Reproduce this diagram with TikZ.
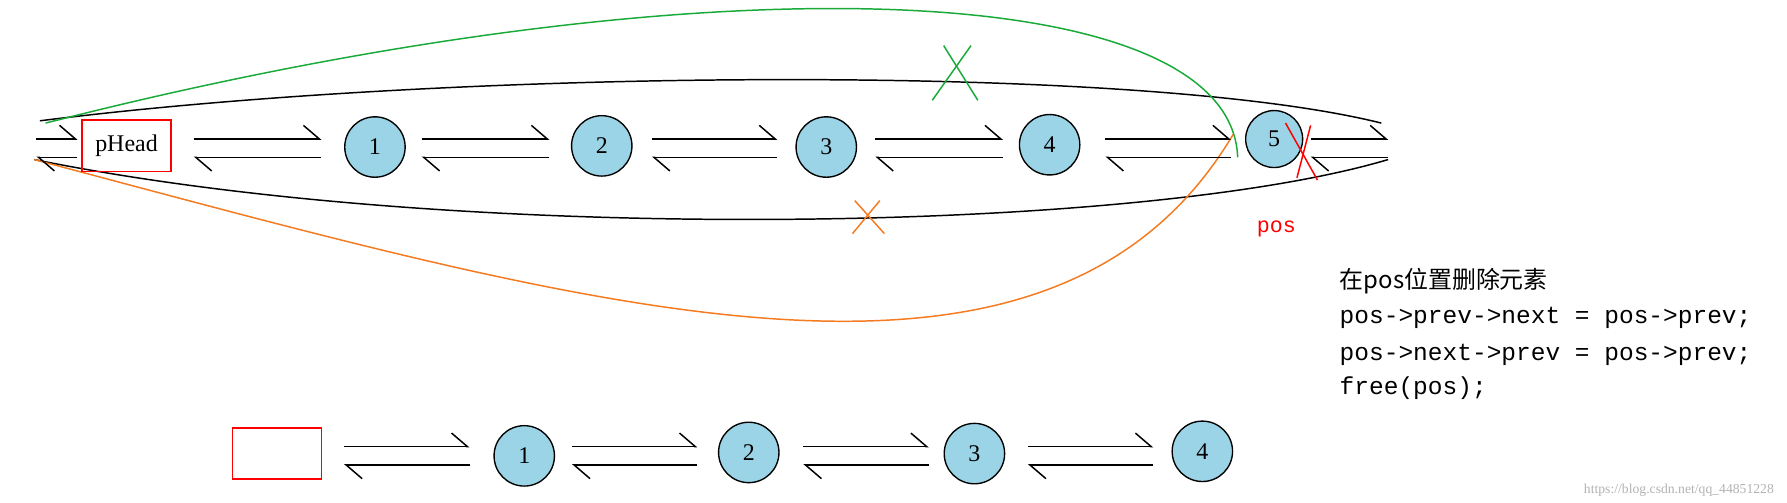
\documentclass[tikz,border=0pt]{standalone}
\usepackage{fontspec}
\setmainfont{Liberation Serif}
\newfontfamily\cjk{Noto Sans CJK SC}
\newfontfamily\mono{Liberation Mono}
\usetikzlibrary{arrows.meta}
\definecolor{cb}{HTML}{9BD4E6}
\definecolor{gr}{HTML}{1AAA3A}
\definecolor{orn}{HTML}{F47B20}
\begin{document}
\begin{tikzpicture}[x=1pt,y=-1pt,
 circ/.style={circle,draw,line width=1.2pt,fill=cb,minimum size=53pt,inner sep=0,font=\fontsize{21}{24}\selectfont},
 box/.style={draw=red,line width=1.5pt,minimum width=78pt,minimum height=45pt,inner sep=0,font=\fontsize{21}{24}\selectfont},
 har/.style={line width=1.3pt,-{Straight Barb[left,length=14pt,width=24pt]}},
 xm/.style={line width=1.3pt}]
\useasboundingbox (0,0) rectangle (1568,441);
% curves
\draw[line width=1.3pt] (35,106) .. controls (400,60) and (1000,55) .. (1212,108);
\draw[line width=1.3pt] (30,140) .. controls (400,215) and (1000,205) .. (1218,140);
\draw[gr,line width=1.3pt] (40,108) .. controls (620,-40) and (1080,-20) .. (1086,138);
\draw[orn,line width=1.3pt] (30,140) .. controls (520,270) and (920,390) .. (1082,118);
% nodes
\node[box] (pH) at (111,128) {pHead};
\node[circ] (c1) at (329,129) {1};
\node[circ] (c2) at (528,128) {2};
\node[circ] (c3) at (725,129) {3};
\node[circ] (c4) at (921,127) {4};
\node[circ,minimum size=50pt] (c5) at (1118,122) {5};
% harpoons
\foreach \a/\b in {170/282,370/482,572/682,768/880,970/1080,32/68,1150/1218}{
 \coordinate (s) at (\a,122); \coordinate (e) at (\b,122);
 \coordinate (s2) at (\b,138); \coordinate (e2) at (\a,138);
 \draw[har] (s) -- (e);
 \draw[har] (s2) -- (e2);}
% crosses
\draw[gr,xm] (828,40) -- (858,88); \draw[gr,xm] (852,40) -- (818,88);
\draw[orn,xm] (750,176) -- (776,205); \draw[orn,xm] (772,176) -- (748,205);
\draw[red,xm] (1128,108) -- (1156,158); \draw[red,xm] (1150,110) -- (1138,156);
\node[red,font=\mono\fontsize{19}{22}\selectfont] (pos) at (1120,201) {pos};
% text
\node[anchor=west,font=\cjk\fontsize{21}{24}\selectfont] (t0) at (1172,247) {在pos位置删除元素};
\node[anchor=west,font=\mono\fontsize{21.5}{24}\selectfont] (t1) at (1172,279) {pos->prev->next = pos->prev;};
\node[anchor=west,font=\mono\fontsize{21.5}{24}\selectfont] (t2) at (1172,311) {pos->next->prev = pos->prev;};
\node[anchor=west,font=\mono\fontsize{21.5}{24}\selectfont] (t3) at (1172,341) {free(pos);};
% bottom row
\node[box] (r) at (243,398) {};
\node[circ] (d1) at (460,400) {1};
\node[circ] (d2) at (657,397) {2};
\node[circ] (d3) at (855,398) {3};
\node[circ] (d4) at (1055,396) {4};
\foreach \a/\b in {302/412,502/612,705/815,902/1012}{
 \coordinate (s) at (\a,392); \coordinate (e) at (\b,392);
 \coordinate (s2) at (\b,408); \coordinate (e2) at (\a,408);
 \draw[har] (s) -- (e);
 \draw[har] (s2) -- (e2);}
\node[anchor=east,gray!60,font=\fontsize{12}{14}\selectfont] (wm) at (1560,430) {https://blog.csdn.net/qq\_44851228};
\end{tikzpicture}
\end{document}
